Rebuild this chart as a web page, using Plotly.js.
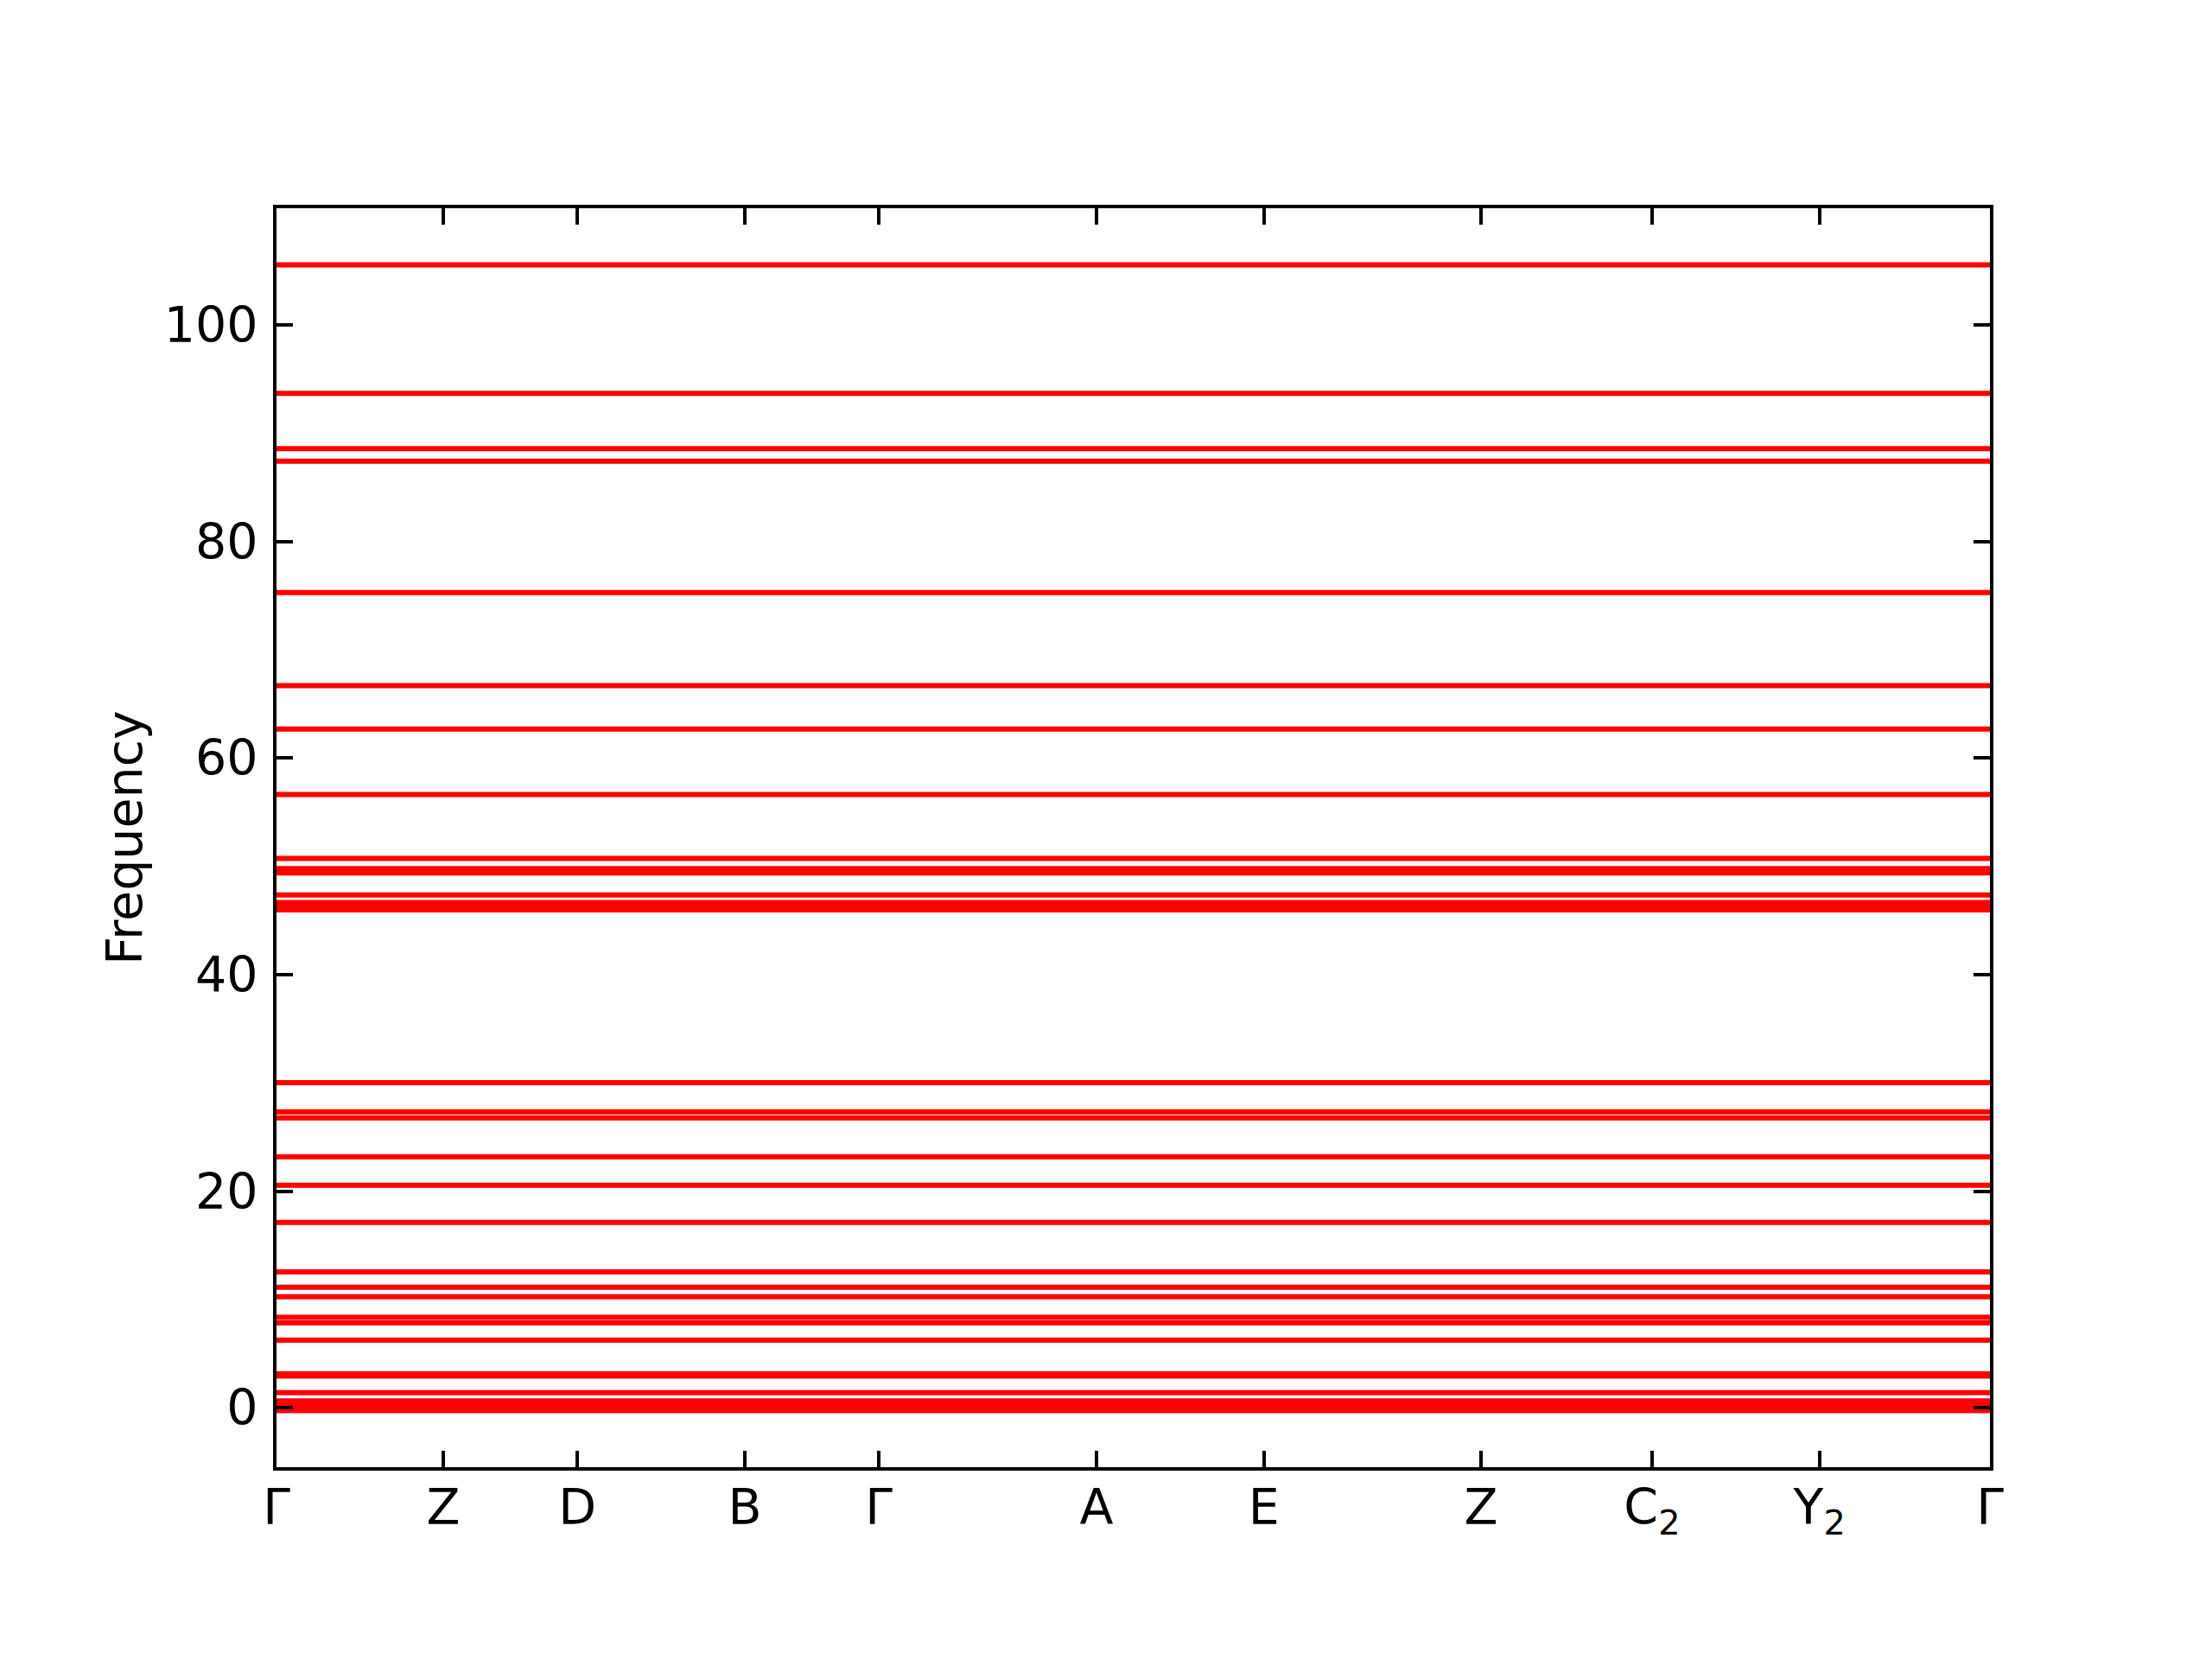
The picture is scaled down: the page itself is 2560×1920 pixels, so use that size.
<!DOCTYPE html>
<html>
<head>
<meta charset="utf-8">
<script src="https://cdn.plot.ly/plotly-3.0.1.min.js"></script>
<style>html,body{margin:0;padding:0;background:#fff;}</style>
</head>
<body>
<div id="chart" style="width:2560px;height:1920px;"></div>
<script>
// High-symmetry path labels and their positions along the k-path
const kLabels = ['Γ', 'Z', 'D', 'B', 'Γ', 'A', 'E', 'Z', 'C<sub>2</sub>', 'Y<sub>2</sub>', 'Γ'];
const kPositions = [0, 0.0974, 0.1756, 0.2734, 0.3516, 0.4786, 0.5763, 0.7030, 0.8028, 0.9005, 1.0];

// Band frequencies (flat bands)
const frequencies = [
  -0.25, 0.0, 0.25, 0.65, 1.40, 2.94, 3.14, 6.26, 7.85, 8.37,
  10.26, 11.14, 12.55, 17.12, 20.55, 23.19, 26.78, 27.34, 30.03,
  46.0, 46.33, 46.67, 47.36, 49.41, 49.81, 50.73, 56.65, 62.69,
  66.70, 75.29, 87.42, 88.59, 93.70, 105.56
];

const yTicks = [0, 20, 40, 60, 80, 100];

const traces = frequencies.map(f => ({
  type: 'scatter',
  mode: 'lines',
  x: kPositions,
  y: kPositions.map(() => f),
  line: {color: '#ff0000', width: 6},
  showlegend: false,
  hoverinfo: 'skip'
}));

const font = {family: 'DejaVu Sans, sans-serif', size: 57, color: '#000'};

const layout = {
  width: 2560,
  height: 1920,
  paper_bgcolor: '#fff',
  plot_bgcolor: '#fff',
  margin: {l: 320, r: 257, t: 241, b: 222, pad: 0},
  font: font,
  showlegend: false,
  xaxis: {
    range: [kPositions[0], kPositions[kPositions.length - 1]],
    tickmode: 'array',
    tickvals: kPositions,
    ticktext: kLabels,
    ticks: 'inside',
    ticklen: 19,
    tickwidth: 4,
    tickcolor: '#000',
    showline: true,
    linecolor: '#000',
    linewidth: 4,
    mirror: 'allticks',
    showgrid: false,
    zeroline: false,
    tickfont: font,
    ticklabelstandoff: -6
  },
  yaxis: {
    range: [-5.48, 110.79],
    tickmode: 'array',
    tickvals: yTicks,
    ticktext: yTicks.map(String),
    ticks: 'inside',
    ticklen: 19,
    tickwidth: 4,
    tickcolor: '#000',
    showline: true,
    linecolor: '#000',
    linewidth: 4,
    mirror: 'allticks',
    showgrid: false,
    zeroline: false,
    tickfont: font,
    ticklabelstandoff: 6,
    title: {text: 'Frequency', font: font, standoff: 8}
  }
};

Plotly.newPlot('chart', traces, layout, {staticPlot: true, displayModeBar: false});
</script>
</body>
</html>
